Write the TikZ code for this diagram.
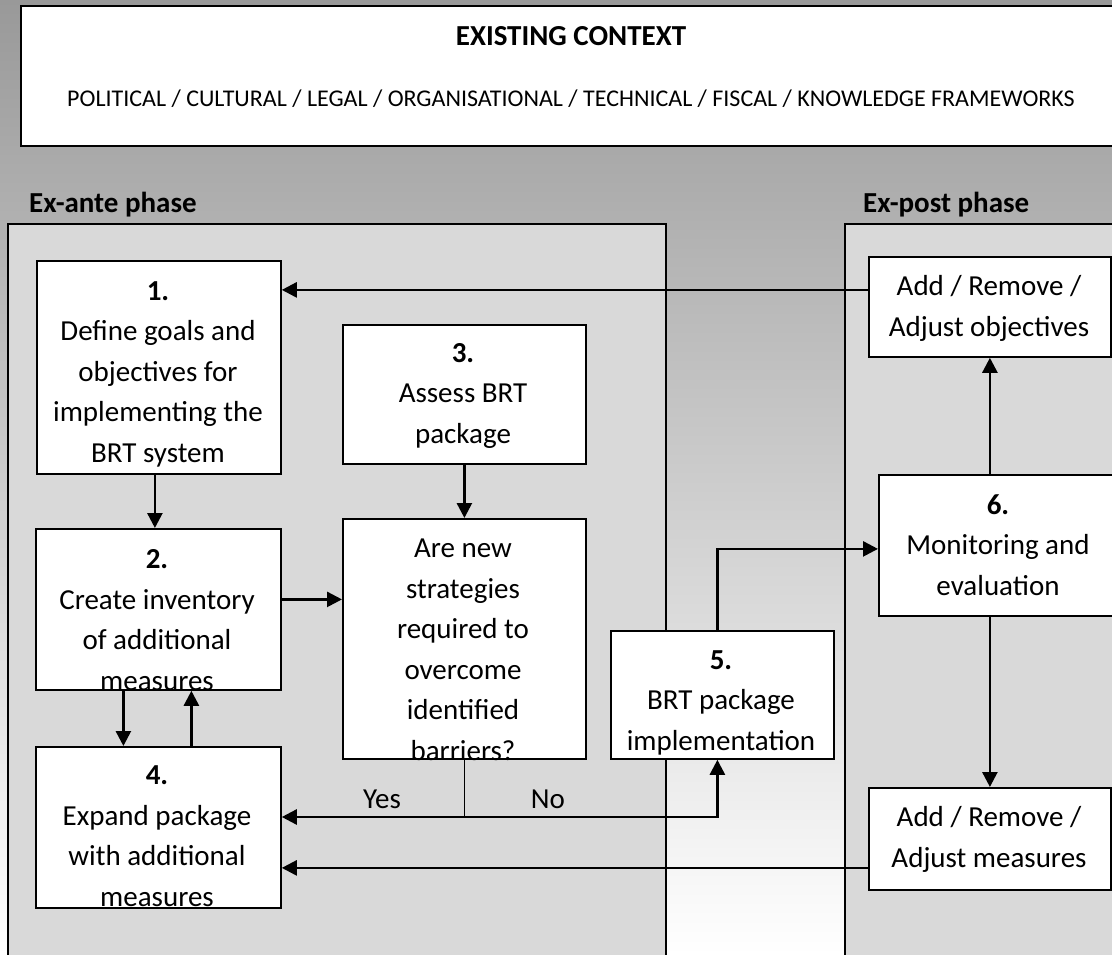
\documentclass[tikz,border=0pt]{standalone}
\usepackage{fontspec}
\setmainfont{Carlito}
\usetikzlibrary{arrows.meta}

\tikzset{
  stepbox/.style={draw, line width=1.8pt, fill=white, inner sep=0pt, anchor=north west},
  steptext/.style={align=center, anchor=base, inner sep=0pt, font=\fontsize{29}{40.5}\selectfont},
  ctxtext/.style={anchor=base, inner sep=0pt, font=\fontsize{24}{28}\selectfont},
  panel/.style={draw, line width=1.8pt, fill=black!15},
  link/.style={line width=2.6pt, -{Triangle[length=15pt,width=15pt]}},
}

\begin{document}
\begin{tikzpicture}[x=1pt,y=-1pt]
    \useasboundingbox (0,0) rectangle (1112,955);
    \clip (0,0) rectangle (1112,955);
    \shade[top color=black!40, bottom color=white] (0,0) rectangle (1112,955);

    \node[stepbox, minimum width=1100pt, minimum height=140pt] (ctx) at (20,5) {};
    \node[ctxtext, font=\fontsize{29}{34}\selectfont\bfseries] (ctxtitle) at (571,46) {EXISTING CONTEXT};
    \node[ctxtext] (ctxlist) at (571,107) {POLITICAL / CULTURAL / LEGAL / ORGANISATIONAL / TECHNICAL / FISCAL / KNOWLEDGE FRAMEWORKS};

    \draw[panel] (8,224) rectangle (666,975);
    \draw[panel] (845,224) rectangle (1130,975);
    \node[steptext, anchor=base west, font=\fontsize{29}{40.5}\selectfont\bfseries] (exante) at (29,213) {Ex-ante phase};
    \node[steptext, anchor=base west, font=\fontsize{29}{40.5}\selectfont\bfseries] (expost) at (863,213) {Ex-post phase};

    \node[stepbox, minimum width=244pt, minimum height=213pt] (b1) at (36,260) {};
    \node[stepbox, minimum width=245pt, minimum height=161pt] (b2) at (35,528) {};
    \node[stepbox, minimum width=243pt, minimum height=139pt] (b3) at (342,324) {};
    \node[stepbox, minimum width=243pt, minimum height=240pt] (q) at (342,518) {};
    \node[stepbox, minimum width=245pt, minimum height=161pt] (b4) at (35,746) {};
    \node[stepbox, minimum width=223pt, minimum height=128pt] (b5) at (610,630) {};
    \node[stepbox, minimum width=242pt, minimum height=100pt] (ob) at (868,256) {};
    \node[stepbox, minimum width=240pt, minimum height=141pt] (b6) at (878,474) {};
    \node[stepbox, minimum width=242pt, minimum height=102pt] (ms) at (868,787) {};

    \node[steptext] (t1) at (158,462) {\textbf{1.}\\Define goals and\\objectives for\\implementing the\\BRT system};
    \node[steptext] (t2) at (157,690) {\textbf{2.}\\Create inventory\\of additional\\measures};
    \node[steptext] (t3) at (463,443) {\textbf{3.}\\Assess BRT\\package};
    \node[steptext] (tq) at (463,760) {Are new\\strategies\\required to\\overcome\\identified\\barriers?};
    \node[steptext] (t4) at (157,906) {\textbf{4.}\\Expand package\\with additional\\measures};
    \node[steptext] (t5) at (721,750) {\textbf{5.}\\BRT package\\implementation};
    \node[steptext] (t6) at (998,595) {\textbf{6.}\\Monitoring and\\evaluation};
    \node[steptext] (tob) at (989,336) {Add / Remove /\\Adjust objectives};
    \node[steptext] (tms) at (989,867) {Add / Remove /\\Adjust measures};

    \draw[link] ([yshift=17pt]ob.west) -- ([yshift=17pt]ob.west -| b1.east);
    \draw[link] ([xshift=-4pt]b1.south) -- ([xshift=-4pt]b1.south |- b2.north);
    \draw[link] (b3.south) -- (q.north);
    \draw[link] ([yshift=10pt]b2.east) -- ([yshift=10pt]b2.east -| q.west);
    \draw[link] ([xshift=-35pt]b2.south) -- ([xshift=-35pt]b2.south |- b4.north);
    \draw[link] ([xshift=33pt]b4.north) -- ([xshift=33pt]b4.north |- b2.south);

    \coordinate (yn) at (q.south |- 0,817);
    \draw[line width=1.3pt] (q.south) -- (yn);
    \draw[link] (yn) -- (yn -| b4.east);
    \draw[link] (yn) -| ([xshift=-5pt]b5.south);
    \node[steptext] (yes) at (382,808) {Yes};
    \node[steptext] (no) at (548,808) {No};

    \draw[link] ([xshift=-5pt]b5.north) |- ([yshift=-3.5pt]b6.west);
    \draw[link] (b6.north -| ob.south) -- (ob.south);
    \draw[link] (b6.south -| ms.north) -- (ms.north);
    \draw[link] ([yshift=-29pt]ms.west) -- ([yshift=-29pt]ms.west -| b4.east);
\end{tikzpicture}
\end{document}
